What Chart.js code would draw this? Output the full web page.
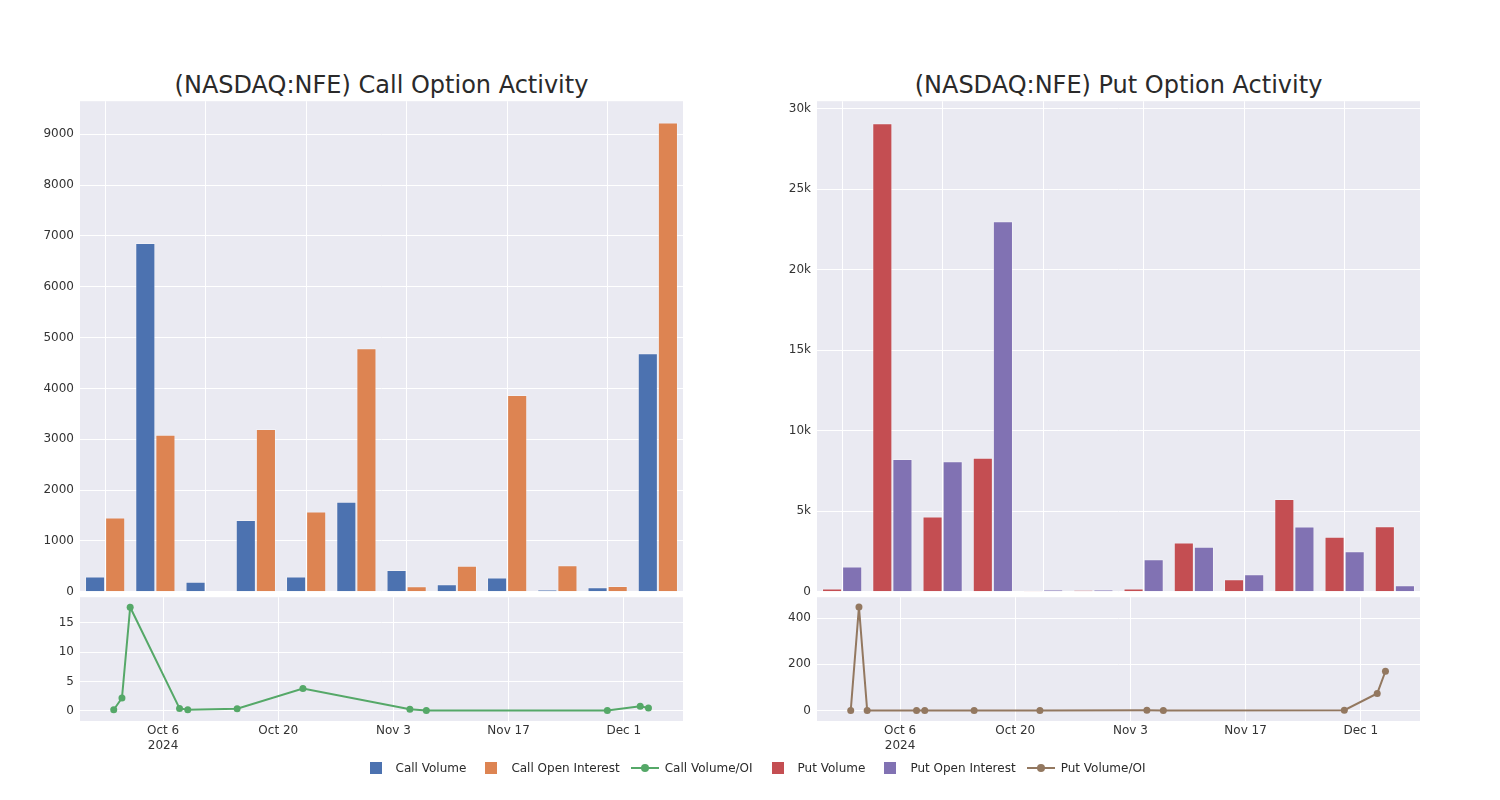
<!DOCTYPE html>
<html><head><meta charset="utf-8">
<script src="https://cdn.jsdelivr.net/npm/chart.js@4.4.1/dist/chart.umd.min.js"></script>
<style>
body{margin:0;width:1500px;height:800px;background:#fff;font-family:'DejaVu Sans',sans-serif;position:relative;overflow:hidden}
canvas{position:absolute}
.title{position:absolute;font-size:24px;color:#2a2a2a;text-align:center;width:603px;top:71px;white-space:nowrap}
#legend{position:absolute;top:759px;left:8px;width:1500px;display:flex;justify-content:center;font-size:12px;color:#2a2a2a;line-height:18px}
.item{display:flex;align-items:center;margin-right:10px}
.sym{width:30px;height:18px;position:relative;margin-right:5px}
.sq{position:absolute;left:9px;top:3px;width:12px;height:12px}
.ln{position:absolute;left:1px;top:8px;width:28px;height:2px}
.dot{position:absolute;left:11px;top:5px;width:8px;height:8px;border-radius:50%}
</style></head><body>
<div class="title" style="left:80px">(NASDAQ:NFE) Call Option Activity</div>
<div class="title" style="left:817px">(NASDAQ:NFE) Put Option Activity</div>
<canvas id="callBar" width="700" height="517" style="left:0;top:88px"></canvas>
<canvas id="putBar" width="700" height="517" style="left:737px;top:88px"></canvas>
<canvas id="callLine" width="700" height="184" style="left:0;top:584px"></canvas>
<canvas id="putLine" width="700" height="184" style="left:737px;top:584px"></canvas>
<div id="legend"></div>
<script>
const categories = ['2024-09-30','2024-10-01','2024-10-02','2024-10-08','2024-10-09','2024-10-15','2024-10-23','2024-11-05','2024-11-07','2024-11-29','2024-12-03','2024-12-04'];
const callVolume = [300, 6860, 200, 1410, 300, 1770, 430, 150, 280, 45, 90, 4690];
const callOpenInterest = [1460, 3090, 11, 3200, 1580, 4790, 110, 510, 3870, 520, 115, 9230];
const callVolOI = [0.2, 2.2, 17.6, 0.44, 0.19, 0.37, 3.8, 0.3, 0.07, 0.08, 0.8, 0.5];
const putVolume = [200, 29080, 4680, 8320, 80, 100, 200, 3060, 780, 5760, 3410, 4070];
const putOpenInterest = [1570, 8250, 8100, 23000, 120, 140, 2020, 2800, 1090, 4050, 2510, 410];
const putVolOI = [0.1, 448, 0.6, 0.4, 0.7, 0.7, 0.1, 1.1, 0.7, 1.4, 74, 170];
const callBarTicks = [0,1000,2000,3000,4000,5000,6000,7000,8000,9000];
const putBarTicks = [0,5000,10000,15000,20000,25000,30000];
const callLineTicks = [0,5,10,15];
const putLineTicks = [0,200,400];
const dateTicks = ['2024-10-06','2024-10-20','2024-11-03','2024-11-17','2024-12-01'];
const dateTickLabels = [['Oct 6','2024'],'Oct 20','Nov 3','Nov 17','Dec 1'];
const seriesNames = ['Call Volume','Call Open Interest','Call Volume/OI','Put Volume','Put Open Interest','Put Volume/OI'];
const seriesColors = ['#4C72B0','#DD8452','#55A868','#C44E52','#8172B3','#937860'];
const seriesKinds = ['bar','bar','line','bar','bar','line'];

const day = s => Date.parse(s + 'T00:00:00Z') / 86400000;
const FONT = {family:"'DejaVu Sans', sans-serif", size:12};
const TICKC = '#333';
const bgPlugin = {id:'bg', beforeDraw(chart){const {ctx, chartArea:a}=chart; ctx.save(); ctx.fillStyle='#EAEAF2'; ctx.fillRect(a.left,a.top,a.right-a.left,a.bottom-a.top); ctx.restore();}};

function barChart(id, d1, d2, c1, c2, n1, n2, yMax, yTicks, fmt){
  new Chart(document.getElementById(id), {
    type:'bar',
    data:{labels:categories, datasets:[
      {label:n1,data:d1,backgroundColor:c1,borderColor:'rgba(255,255,255,0.3)',borderWidth:1,categoryPercentage:0.8,barPercentage:1},
      {label:n2,data:d2,backgroundColor:c2,borderColor:'rgba(255,255,255,0.3)',borderWidth:1,categoryPercentage:0.8,barPercentage:1}]},
    options:{responsive:false,animation:false,
      layout:{padding:{left:20,right:17,top:10,bottom:9}},
      plugins:{legend:{display:false},tooltip:{enabled:false}},
      scales:{
        x:{grid:{offset:false,drawTicks:false,color:c=>c.index%2===0?'#ffffff':'rgba(0,0,0,0)',lineWidth:1},border:{display:false},ticks:{display:false},afterFit:s=>{s.height=0;}},
        y:{min:0,max:yMax,grid:{color:'#ffffff',drawTicks:false,lineWidth:1},border:{display:false},
           ticks:{padding:6,font:FONT,color:TICKC,callback:fmt},
           afterBuildTicks:s=>{s.ticks=yTicks.map(v=>({value:v}));},afterFit:s=>{s.width=60;}}
      }},
    plugins:[bgPlugin]
  });
}
function lineChart(id, vals, color, name, yMin, yMax, yTicks){
  const pts = categories.map((c,i)=>({x:day(c), y:vals[i]}));
  new Chart(document.getElementById(id), {
    type:'line',
    data:{datasets:[{label:name,data:pts,borderColor:color,backgroundColor:color,borderWidth:2,pointRadius:3.5,pointBackgroundColor:color,pointBorderWidth:0,tension:0}]},
    options:{responsive:false,animation:false,
      layout:{padding:{left:20,right:17,top:10,bottom:7}},
      plugins:{legend:{display:false},tooltip:{enabled:false}},
      scales:{
        x:{type:'linear',min:day(dateTicks[0])-10.1,max:day(dateTicks[4])+7.2,
           grid:{color:'#ffffff',drawTicks:false},border:{display:false},
           ticks:{padding:3,font:FONT,color:TICKC,maxRotation:0,callback:(v,i)=>dateTickLabels[i]},
           afterBuildTicks:s=>{s.ticks=dateTicks.map(d=>({value:day(d)}));},afterFit:s=>{s.height=40;}},
        y:{min:yMin,max:yMax,grid:{color:'#ffffff',drawTicks:false},border:{display:false},
           ticks:{padding:6,font:FONT,color:TICKC},
           afterBuildTicks:s=>{s.ticks=yTicks.map(v=>({value:v}));},afterFit:s=>{s.width=60;}}
      }},
    plugins:[bgPlugin]
  });
}
barChart('callBar', callVolume, callOpenInterest, seriesColors[0], seriesColors[1], seriesNames[0], seriesNames[1], 9650, callBarTicks, v=>String(v));
barChart('putBar', putVolume, putOpenInterest, seriesColors[3], seriesColors[4], seriesNames[3], seriesNames[4], 30450, putBarTicks, v=>v===0?'0':(v/1000)+'k');
lineChart('callLine', callVolOI, seriesColors[2], seriesNames[2], -1.7, 19.3, callLineTicks);
lineChart('putLine', putVolOI, seriesColors[5], seriesNames[5], -45, 490, putLineTicks);

const leg = document.getElementById('legend');
seriesNames.forEach((n,i)=>{
  const it = document.createElement('div'); it.className='item';
  const sym = document.createElement('div'); sym.className='sym';
  if (seriesKinds[i]==='bar'){ const s=document.createElement('div'); s.className='sq'; s.style.background=seriesColors[i]; sym.appendChild(s); }
  else { const l=document.createElement('div'); l.className='ln'; l.style.background=seriesColors[i]; const d=document.createElement('div'); d.className='dot'; d.style.background=seriesColors[i]; sym.appendChild(l); sym.appendChild(d); }
  const t=document.createElement('span'); t.textContent=n;
  it.appendChild(sym); it.appendChild(t); leg.appendChild(it);
});
</script>
</body></html>
